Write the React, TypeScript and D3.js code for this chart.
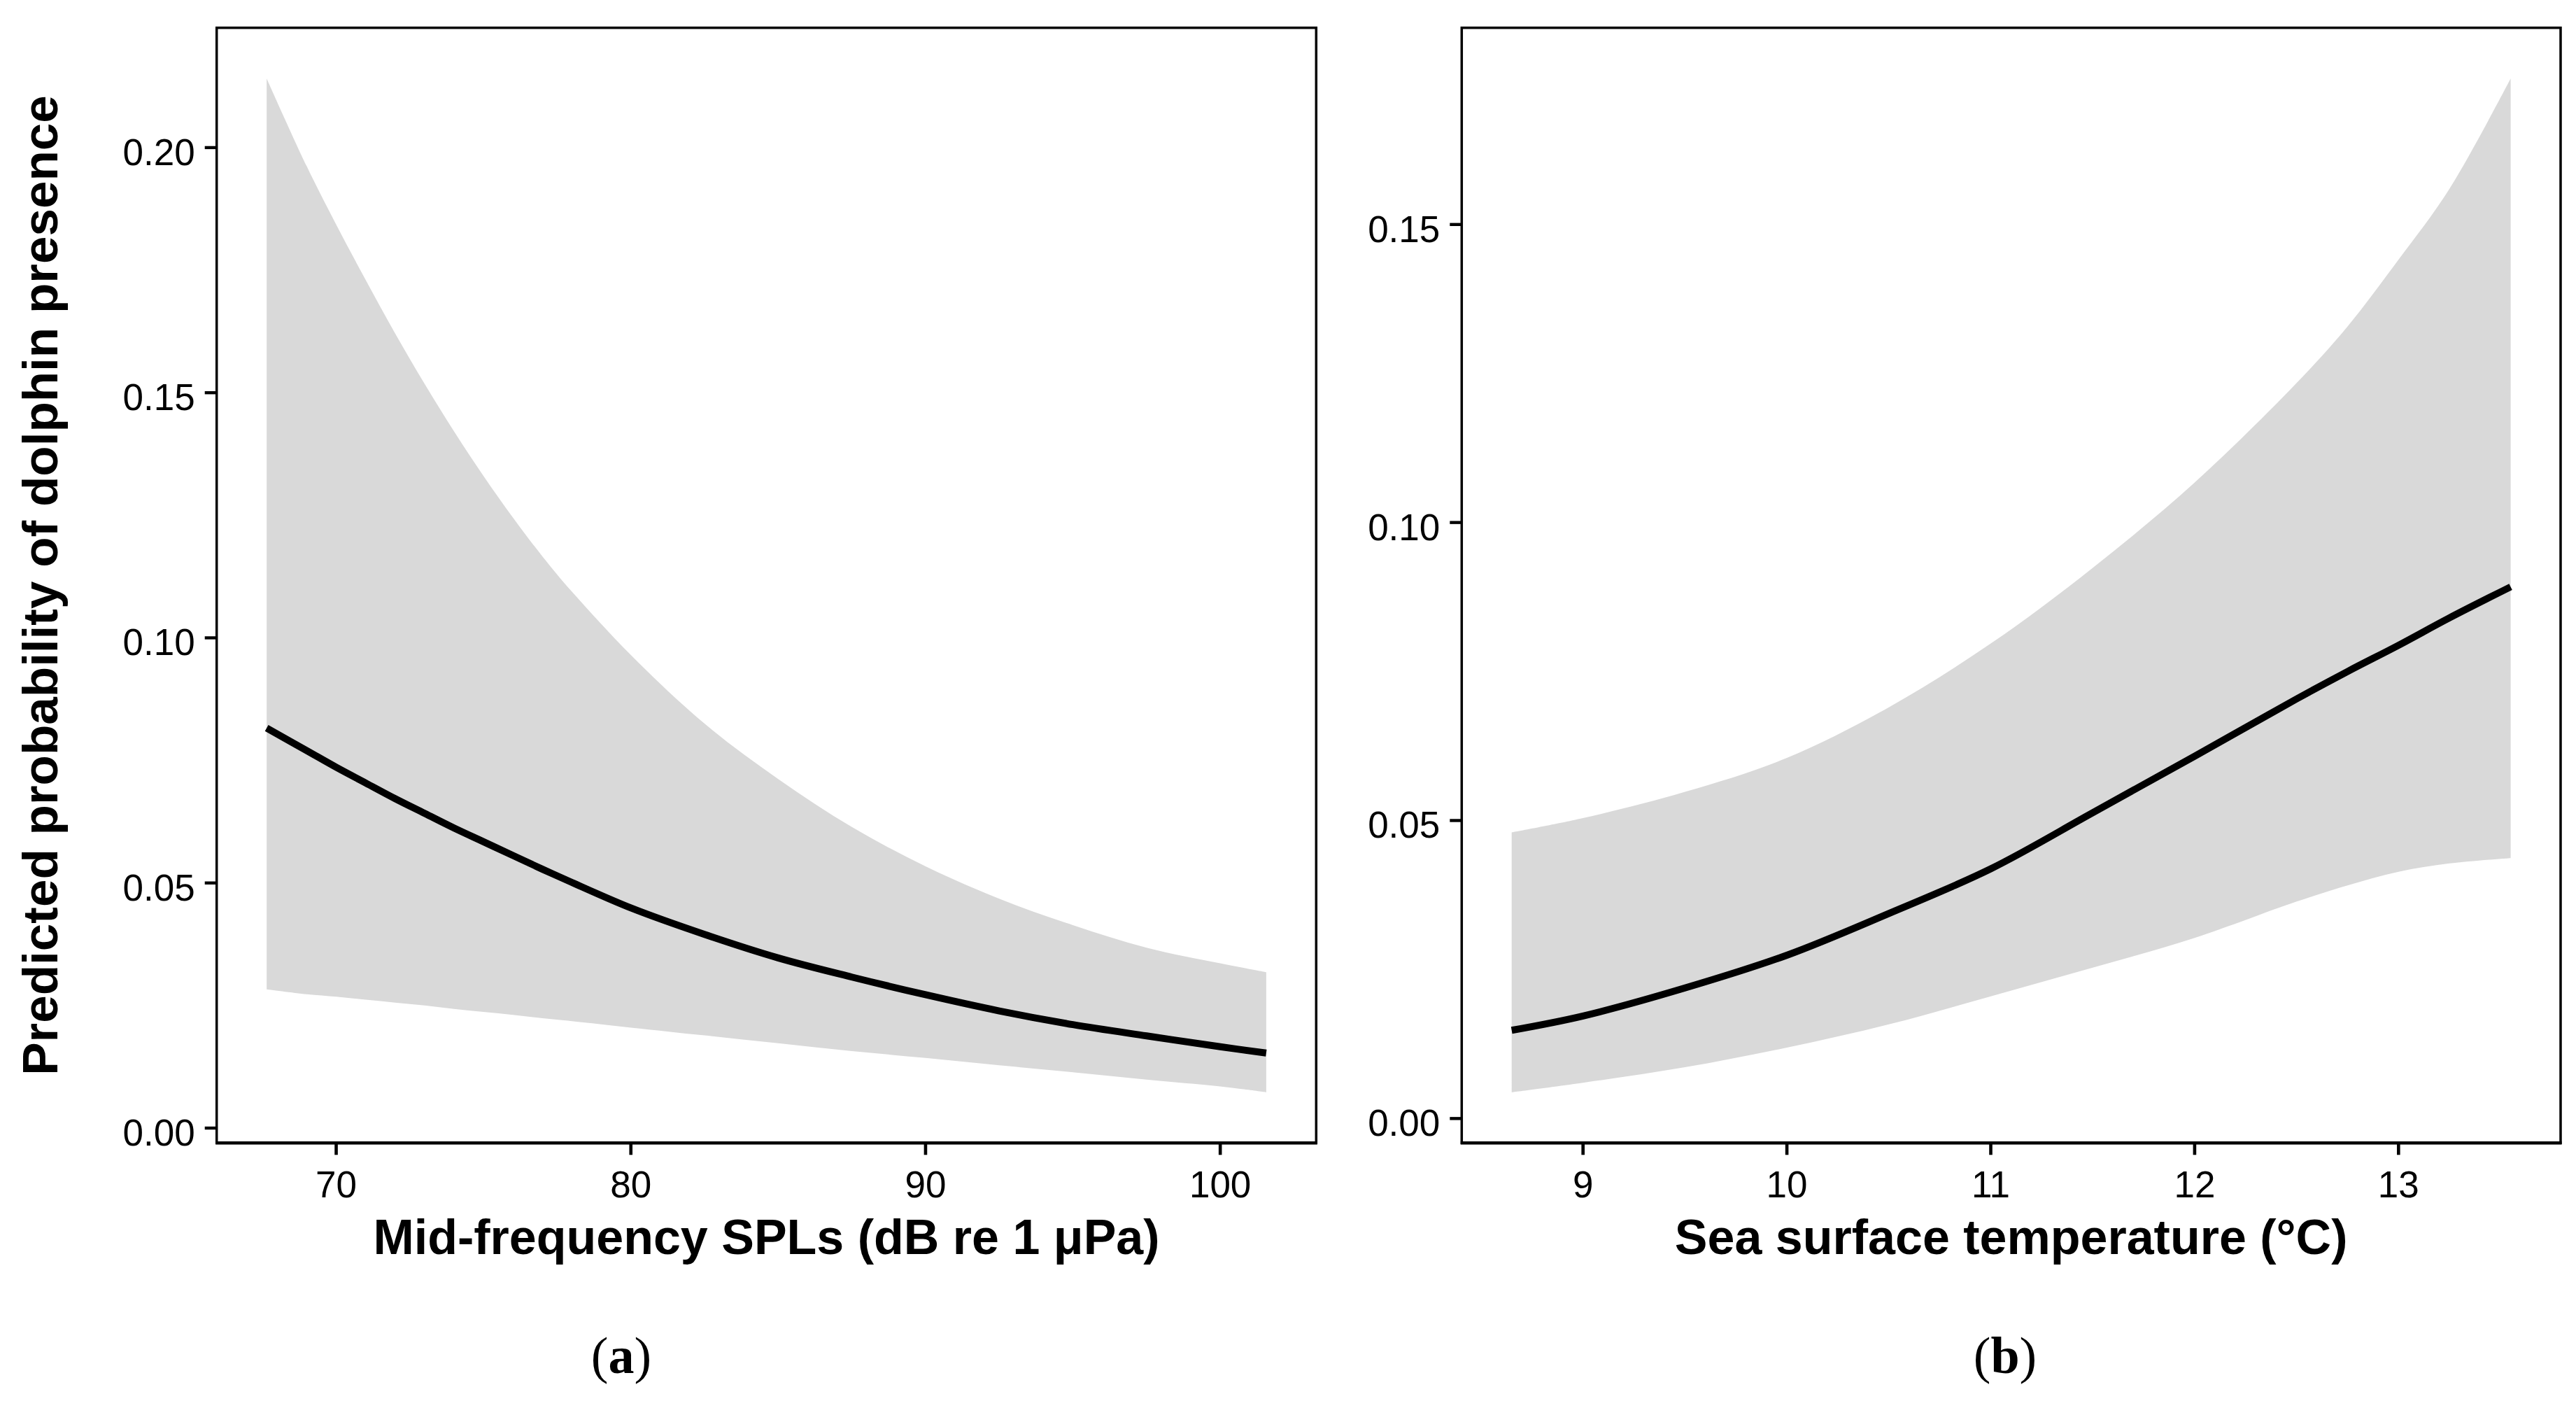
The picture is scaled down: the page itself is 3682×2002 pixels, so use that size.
import React from "react";
import * as d3 from "d3";

// Panel (a): Mid-frequency SPLs
const splX = [67.64, 69, 70, 71, 72, 73, 74, 75, 76, 77, 78, 80, 82.5, 85, 87.5, 90, 92.5, 95, 97.5, 100, 101.56];
const splFit = [0.0816, 0.077, 0.0736, 0.0704, 0.0672, 0.0642, 0.0612, 0.0584, 0.0556, 0.0528, 0.0501, 0.0449, 0.0395, 0.0347, 0.0308, 0.0272, 0.0239, 0.0211, 0.0188, 0.0166, 0.0153];
const splUpper = [0.2141, 0.1962, 0.1843, 0.173, 0.1621, 0.1518, 0.1421, 0.133, 0.1245, 0.1166, 0.1094, 0.0965, 0.0825, 0.0712, 0.0614, 0.0534, 0.0468, 0.0414, 0.0368, 0.0336, 0.0318];
const splLower = [0.0283, 0.0273, 0.0268, 0.0262, 0.0256, 0.025, 0.0243, 0.0237, 0.0231, 0.0224, 0.0218, 0.0205, 0.0189, 0.0173, 0.0157, 0.0143, 0.0128, 0.0114, 0.0099, 0.0085, 0.0073];
const splXTicks = [70, 80, 90, 100];
const splYTicks = [0, 0.05, 0.1, 0.15, 0.2];

// Panel (b): Sea surface temperature
const sstX = [8.65, 9, 9.5, 10, 10.5, 11, 11.5, 12, 12.5, 12.75, 13, 13.25, 13.55];
const sstFit = [0.0148, 0.0172, 0.0219, 0.0274, 0.0344, 0.0419, 0.0513, 0.0608, 0.0704, 0.075, 0.0794, 0.084, 0.0892];
const sstUpper = [0.048, 0.0504, 0.0548, 0.0605, 0.069, 0.0797, 0.0924, 0.1067, 0.1234, 0.1329, 0.1441, 0.156, 0.1745];
const sstLower = [0.0044, 0.006, 0.0086, 0.0119, 0.0158, 0.0205, 0.0253, 0.0303, 0.0364, 0.0391, 0.0414, 0.0428, 0.0437];
const sstXTicks = [9, 10, 11, 12, 13];
const sstYTicks = [0, 0.05, 0.1, 0.15];

const yTitle = "Predicted probability of dolphin presence";
const xTitleA = "Mid-frequency SPLs (dB re 1 \u03bcPa)";
const xTitleB = "Sea surface temperature (\u00b0C)";

const SANS = "'Liberation Sans', Arial, Helvetica, sans-serif";
const SERIF = "'Palatino Linotype', 'Book Antiqua', Palatino, 'Liberation Serif', serif";

function expanded(vals: number[]): [number, number] {
  const [a, b] = d3.extent(vals) as [number, number];
  const e = (b - a) * 0.05;
  return [a - e, b + e];
}

type PanelProps = {
  left: number;
  right: number;
  top: number;
  bottom: number;
  xs: number[];
  fit: number[];
  upper: number[];
  lower: number[];
  xTicks: number[];
  yTicks: number[];
  xTitle: string;
};

function Panel(p: PanelProps) {
  const x = d3.scaleLinear().domain(expanded(p.xs)).range([p.left, p.right]);
  const y = d3
    .scaleLinear()
    .domain(expanded([...p.upper, ...p.lower]))
    .range([p.bottom, p.top]);
  const rows = p.xs.map((v, i) => ({ x: v, f: p.fit[i], u: p.upper[i], l: p.lower[i] }));
  const curve = d3.curveCatmullRom.alpha(0.5);
  const area = d3
    .area<any>()
    .x((d) => x(d.x))
    .y0((d) => y(d.l))
    .y1((d) => y(d.u))
    .curve(curve);
  const line = d3
    .line<any>()
    .x((d) => x(d.x))
    .y((d) => y(d.f))
    .curve(curve);
  const tickLen = 17;
  const cx = (p.left + p.right) / 2;
  return (
    <g>
      <path d={area(rows) || ""} fill="#d9d9d9" stroke="none" />
      <path d={line(rows) || ""} fill="none" stroke="#000" strokeWidth={10} strokeLinejoin="round" />
      <rect
        x={p.left}
        y={p.top}
        width={p.right - p.left}
        height={p.bottom - p.top}
        fill="none"
        stroke="#000"
        strokeWidth={3.5}
      />
      <line x1={p.left - 1.5} x2={p.right + 1.5} y1={p.bottom} y2={p.bottom} stroke="#000" strokeWidth={4.6} />
      {p.yTicks.map((t) => (
        <g key={"y" + t}>
          <line x1={p.left - tickLen} x2={p.left} y1={y(t)} y2={y(t)} stroke="#000" strokeWidth={4.4} />
          <text
            x={p.left - tickLen - 14}
            y={y(t) + 25}
            textAnchor="end"
            fontFamily={SANS}
            fontSize={53}
            fill="#000"
          >
            {d3.format(".2f")(t)}
          </text>
        </g>
      ))}
      {p.xTicks.map((t) => (
        <g key={"x" + t}>
          <line x1={x(t)} x2={x(t)} y1={p.bottom} y2={p.bottom + tickLen} stroke="#000" strokeWidth={4.6} />
          <text x={x(t)} y={p.bottom + 78} textAnchor="middle" fontFamily={SANS} fontSize={53} fill="#000">
            {t}
          </text>
        </g>
      ))}
      <text x={cx} y={1792} textAnchor="middle" fontFamily={SANS} fontWeight="bold" fontSize={70} fill="#000">
        {p.xTitle}
      </text>
    </g>
  );
}

export default function App() {
  const top = 39.7;
  const bottom = 1633.3;
  return (
    <svg
      width={3682}
      height={2002}
      viewBox="0 0 3682 2002"
      style={{ position: "absolute", left: 0, top: 0, background: "#fff" }}
    >
      <rect x={0} y={0} width={3682} height={2002} fill="#fff" />
      <Panel
        left={309.7}
        right={1881.3}
        top={top}
        bottom={bottom}
        xs={splX}
        fit={splFit}
        upper={splUpper}
        lower={splLower}
        xTicks={splXTicks}
        yTicks={splYTicks}
        xTitle={xTitleA}
      />
      <Panel
        left={2089.3}
        right={3660}
        top={top}
        bottom={bottom}
        xs={sstX}
        fit={sstFit}
        upper={sstUpper}
        lower={sstLower}
        xTicks={sstXTicks}
        yTicks={sstYTicks}
        xTitle={xTitleB}
      />
      <text
        transform={`translate(82, ${(top + bottom) / 2}) rotate(-90)`}
        textAnchor="middle"
        fontFamily={SANS}
        fontWeight="bold"
        fontSize={71}
        fill="#000"
      >
        {yTitle}
      </text>
      <text x={888} y={1962} textAnchor="middle" fontFamily={SERIF} fontSize={74} fill="#000">
        (<tspan fontWeight="bold">a</tspan>)
      </text>
      <text x={2866} y={1962} textAnchor="middle" fontFamily={SERIF} fontSize={74} fill="#000">
        (<tspan fontWeight="bold">b</tspan>)
      </text>
    </svg>
  );
}
